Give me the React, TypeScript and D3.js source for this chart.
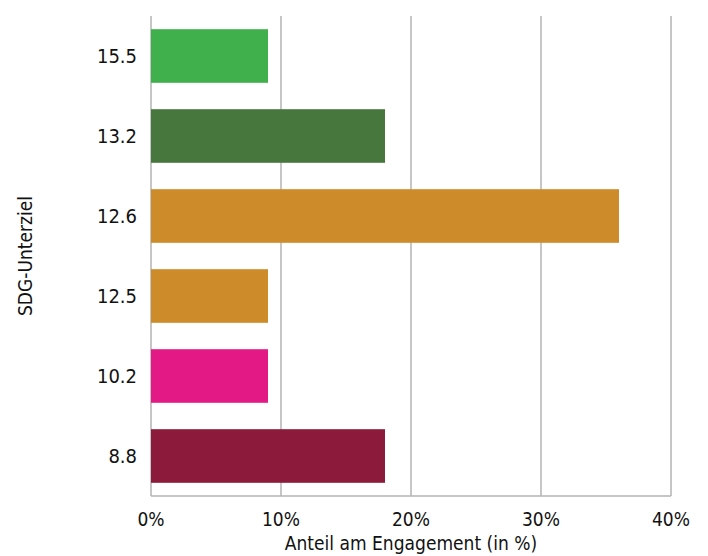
import React from "react";
import * as d3 from "d3";

const categories = ["15.5", "13.2", "12.6", "12.5", "10.2", "8.8"];
const values = [9, 18, 36, 9, 9, 18];
const colors = ["#3fb04c", "#47773c", "#cd8b2a", "#cd8b2a", "#e31a86", "#8c1a3a"];
const xTicks = [0, 10, 20, 30, 40];

const W = 708;
const H = 556;
const margin = { left: 151, right: 37, top: 16, bottom: 60 };
const FONT = "'DejaVu Sans Condensed', 'Liberation Sans Narrow', sans-serif";

export default function App() {
  const x = d3.scaleLinear().domain([0, 40]).range([margin.left, W - margin.right]);
  const y = d3
    .scaleBand<string>()
    .domain(categories)
    .range([margin.top, H - margin.bottom])
    .paddingInner(0.33)
    .paddingOuter(0.165);
  const y0 = margin.top;
  const y1 = H - margin.bottom;
  return (
    <svg width={W} height={H} style={{ position: "absolute", left: 0, top: 0, background: "#fff" }}>
      {xTicks.map((t) => (
        <line key={"g" + t} x1={x(t)} x2={x(t)} y1={y0} y2={y1} stroke="#b3b3b3" strokeWidth={1.5} />
      ))}
      <line x1={x(0)} x2={x(40)} y1={y1} y2={y1} stroke="#b3b3b3" strokeWidth={1.5} />
      {categories.map((c, i) => (
        <rect key={c} x={x(0)} y={y(c)} width={x(values[i]) - x(0)} height={y.bandwidth()} fill={colors[i]} />
      ))}
      {categories.map((c) => (
        <text
          key={"l" + c}
          x={137}
          y={(y(c) as number) + y.bandwidth() / 2}
          textAnchor="end"
          dominantBaseline="central"
          fontFamily={FONT}
          fontSize={20}
          fill="#111"
        >
          {c}
        </text>
      ))}
      {xTicks.map((t) => (
        <text key={"t" + t} x={x(t)} y={526} textAnchor="middle" fontFamily={FONT} fontSize={19} fill="#111">
          {t + "%"}
        </text>
      ))}
      <text x={x(20)} y={550} textAnchor="middle" fontFamily={FONT} fontSize={19} fill="#111">
        Anteil am Engagement (in %)
      </text>
      <text
        transform={`translate(32, ${(y0 + y1) / 2}) rotate(-90)`}
        textAnchor="middle"
        fontFamily={FONT}
        fontSize={19}
        fill="#111"
      >
        SDG-Unterziel
      </text>
    </svg>
  );
}
